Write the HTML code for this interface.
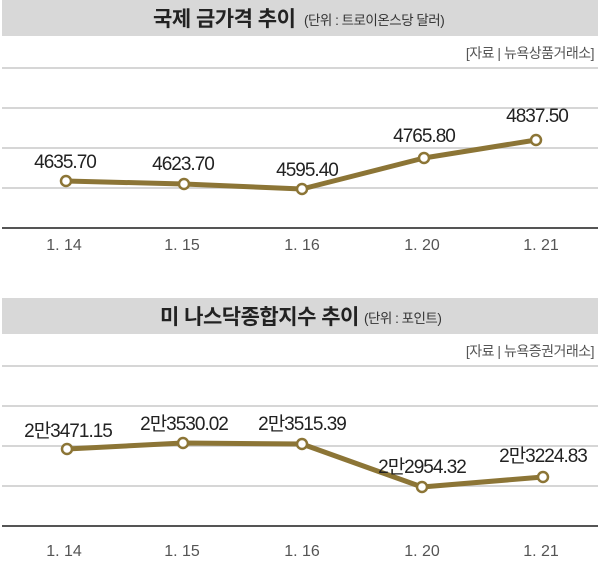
<!DOCTYPE html>
<html><head><meta charset="utf-8"><style>
body{margin:0;background:#fff;}
svg{display:block;font-family:"Liberation Sans","Noto Sans CJK KR",sans-serif;}
</style></head><body>
<svg width="600" height="580" viewBox="0 0 600 580" xmlns="http://www.w3.org/2000/svg">
<!-- Chart 1 -->
<rect x="2" y="0" width="596" height="36" fill="#d8d8d8"/>
<text x="153" y="26" font-size="21" font-weight="bold" fill="#222" letter-spacing="-0.5">국제 금가격 추이</text>
<text x="304" y="25" font-size="13.5" fill="#333" letter-spacing="-0.5">(단위 : 트로이온스당 달러)</text>
<text x="594" y="58" font-size="14" fill="#555" text-anchor="end" letter-spacing="-0.5">[자료 | 뉴욕상품거래소]</text>
<g stroke="#c8c8c8" stroke-width="1.5">
<line x1="2" y1="68" x2="598" y2="68"/><line x1="2" y1="108" x2="598" y2="108"/>
<line x1="2" y1="148" x2="598" y2="148"/><line x1="2" y1="188" x2="598" y2="188"/>
</g>
<line x1="2" y1="228" x2="598" y2="228" stroke="#555" stroke-width="2"/>
<polyline points="66,181 184,184 302,189 424,158 536,140" fill="none" stroke="#8c7536" stroke-width="5" stroke-linejoin="round"/>
<g fill="#fff" stroke="#8c7536" stroke-width="2.5">
<circle cx="66" cy="181" r="5"/><circle cx="184" cy="184" r="5"/><circle cx="302" cy="189" r="5"/><circle cx="424" cy="158" r="5"/><circle cx="536" cy="140" r="5"/>
</g>
<g font-size="19" fill="#222" text-anchor="middle" letter-spacing="-1">
<text x="65" y="168">4635.70</text><text x="183" y="170">4623.70</text><text x="307" y="176">4595.40</text><text x="424" y="142">4765.80</text><text x="537" y="122">4837.50</text>
</g>
<g font-size="16" fill="#555" text-anchor="middle">
<text x="64" y="250">1. 14</text><text x="182" y="250">1. 15</text><text x="302" y="250">1. 16</text><text x="422" y="250">1. 20</text><text x="541" y="250">1. 21</text>
</g>
<!-- Chart 2 -->
<rect x="2" y="298" width="596" height="36" fill="#d8d8d8"/>
<text x="160" y="324" font-size="21" font-weight="bold" fill="#222" letter-spacing="-0.5">미 나스닥종합지수 추이</text>
<text x="364" y="323" font-size="13.5" fill="#333" letter-spacing="-0.5">(단위 : 포인트)</text>
<text x="594" y="356" font-size="14" fill="#555" text-anchor="end" letter-spacing="-0.5">[자료 | 뉴욕증권거래소]</text>
<g stroke="#c8c8c8" stroke-width="1.5">
<line x1="2" y1="366" x2="598" y2="366"/><line x1="2" y1="406" x2="598" y2="406"/>
<line x1="2" y1="446" x2="598" y2="446"/><line x1="2" y1="486" x2="598" y2="486"/>
</g>
<line x1="2" y1="526" x2="598" y2="526" stroke="#555" stroke-width="2"/>
<polyline points="67,449 183,443 302,444 422,487 543,477" fill="none" stroke="#8c7536" stroke-width="5" stroke-linejoin="round"/>
<g fill="#fff" stroke="#8c7536" stroke-width="2.5">
<circle cx="67" cy="449" r="5"/><circle cx="183" cy="443" r="5"/><circle cx="302" cy="444" r="5"/><circle cx="422" cy="487" r="5"/><circle cx="543" cy="477" r="5"/>
</g>
<g font-size="19" fill="#222" text-anchor="middle" letter-spacing="-1">
<text x="68" y="437">2만3471.15</text><text x="184" y="430">2만3530.02</text><text x="302" y="430">2만3515.39</text><text x="422" y="473">2만2954.32</text><text x="543" y="462">2만3224.83</text>
</g>
<g font-size="16" fill="#555" text-anchor="middle">
<text x="64" y="556">1. 14</text><text x="182" y="556">1. 15</text><text x="302" y="556">1. 16</text><text x="422" y="556">1. 20</text><text x="541" y="556">1. 21</text>
</g>
</svg>
</body></html>
